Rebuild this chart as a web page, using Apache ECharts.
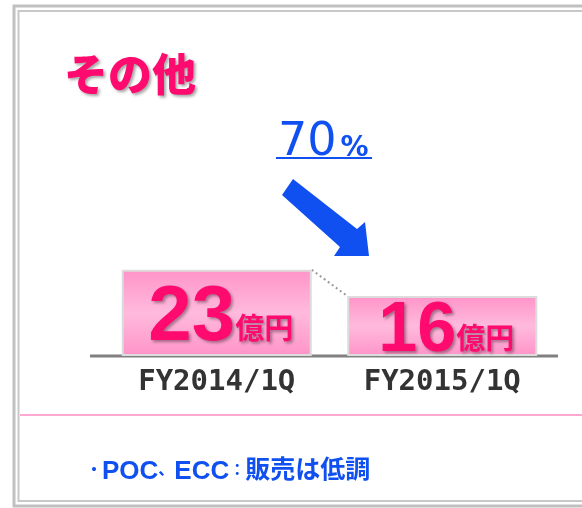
<!DOCTYPE html>
<html>
<head>
<meta charset="utf-8">
<style>
  html, body { margin: 0; padding: 0; background: #fff; }
  #chart { width: 582px; height: 508px; }
</style>
<script src="https://cdn.jsdelivr.net/npm/echarts@6/dist/echarts.min.js"></script>
</head>
<body>
<div id="chart"></div>
<script>
// data
const heading = 'その他'
const categories = ['FY2014/1Q', 'FY2015/1Q']
const sales = [23, 16]
const unit = '億円'
const note = '・POC、ECC：販売は低調'

const pink = '#ff0a6e'
const blue = '#1050f0'
const cjk = '"Noto Sans CJK JP", sans-serif'
const latin = '"Liberation Sans", Arial, sans-serif'
const shadow = { textShadowColor: 'rgba(0,0,0,0.35)', textShadowBlur: 3, textShadowOffsetX: 2, textShadowOffsetY: 2 }

const ratio = Math.round(sales[1] / sales[0] * 100)

// split the note so latin letters, punctuation and kanji get their own styles
const noteRich = note.replace(/([A-Z]+)|([・、：])|([^A-Z・、：]+)/g,
  (m, a, b, c) => a ? '{lat|' + a + '}' : b ? '{p|' + b + '}' : '{c|' + c + '}')

const chart = echarts.init(document.getElementById('chart'))

chart.setOption({
  animation: false,
  title: [
    {
      text: heading,
      left: 64,
      top: 52,
      padding: 0,
      textStyle: Object.assign({ color: pink, fontSize: 44, fontWeight: 900, fontFamily: cjk }, shadow)
    },
    {
      text: '{n|' + ratio + '}{p|%}',
      left: 278,
      top: 120,
      padding: 0,
      textStyle: {
        rich: {
          n: { color: blue, fontSize: 46, fontFamily: '"DejaVu Sans", sans-serif', fontWeight: 'normal' },
          p: { color: blue, fontSize: 28, fontFamily: '"DejaVu Sans", sans-serif', fontWeight: 'bold', verticalAlign: 'bottom', padding: [0, 0, 3, 4] }
        }
      }
    },
    {
      text: noteRich,
      left: 86,
      top: 456,
      padding: 0,
      textStyle: {
        rich: {
          c: { color: blue, fontSize: 25, fontWeight: 'bold', fontFamily: cjk, verticalAlign: 'bottom', padding: [0, 0, 4, 0] },
          lat: { color: blue, fontSize: 26, fontWeight: 'bold', fontFamily: latin, verticalAlign: 'bottom' },
          p: { color: blue, fontSize: 16, fontWeight: 'bold', fontFamily: cjk, verticalAlign: 'bottom', padding: [0, 0, 8, 0] }
        }
      }
    }
  ],
  grid: { left: 104, right: 27, top: 206, height: 150 },
  xAxis: {
    type: 'category',
    data: categories,
    axisLine: { show: false },
    axisTick: { show: false },
    axisLabel: {
      margin: 12,
      color: '#333',
      fontSize: 29,
      fontWeight: 'bold',
      fontFamily: '"DejaVu Sans Mono", monospace'
    }
  },
  yAxis: { type: 'value', min: 0, max: 40, show: false },
  series: [{
    type: 'bar',
    data: sales,
    barWidth: 190,
    itemStyle: {
      color: new echarts.graphic.LinearGradient(0, 0, 0, 1, [
        { offset: 0, color: '#ff94c8' },
        { offset: 0.5, color: '#ffbadd' },
        { offset: 1, color: '#ff94c8' }
      ]),
      borderColor: '#dcdcdc',
      borderWidth: 2
    },
    label: {
      show: true,
      position: 'inside',
      offset: [4, 6],
      formatter: p => '{n' + p.dataIndex + '|' + p.value + '}{u|' + unit + '}',
      rich: {
        n0: Object.assign({ color: pink, fontSize: 78, fontWeight: 'bold', fontFamily: latin, verticalAlign: 'bottom' }, shadow),
        n1: Object.assign({ color: pink, fontSize: 70, fontWeight: 'bold', fontFamily: latin, verticalAlign: 'bottom' }, shadow),
        u: Object.assign({ color: pink, fontSize: 29, fontWeight: 'bold', fontFamily: cjk, verticalAlign: 'bottom', padding: [0, 0, 15, 0] }, shadow)
      }
    }
  }]
})

// decorations placed from the axes
const half = 95
const top0 = chart.convertToPixel({ seriesIndex: 0 }, [0, sales[0]])
const top1 = chart.convertToPixel({ seriesIndex: 0 }, [1, sales[1]])
const baseY = chart.convertToPixel({ yAxisIndex: 0 }, 0)

chart.setOption({
  graphic: [
    { type: 'rect', silent: true, shape: { x: 14, y: 6, width: 600, height: 500 }, style: { fill: null, stroke: '#c0c0c0', lineWidth: 3 } },
    { type: 'rect', silent: true, shape: { x: 18.5, y: 11, width: 600, height: 490 }, style: { fill: null, stroke: '#c8c8c8', lineWidth: 2 } },
    { type: 'line', silent: true, shape: { x1: 20, y1: 415, x2: 582, y2: 415 }, style: { stroke: '#ffa8d2', lineWidth: 2 } },
    { type: 'line', silent: true, shape: { x1: 90, y1: baseY, x2: 558, y2: baseY }, style: { stroke: '#808080', lineWidth: 3 } },
    {
      type: 'line', silent: true,
      shape: { x1: top0[0] + half, y1: top0[1], x2: top1[0] - half, y2: top1[1] },
      style: { stroke: '#999', lineWidth: 2, lineDash: [2, 3] }
    },
    { type: 'line', silent: true, shape: { x1: 276, y1: 158, x2: 372, y2: 158 }, style: { stroke: blue, lineWidth: 2 } },
    {
      type: 'polygon', silent: true,
      shape: { points: [[293, 179], [357, 229], [365, 222], [369, 256], [334, 256], [340, 247], [282, 195]] },
      style: { fill: blue }
    }
  ]
})
</script>
</body>
</html>
